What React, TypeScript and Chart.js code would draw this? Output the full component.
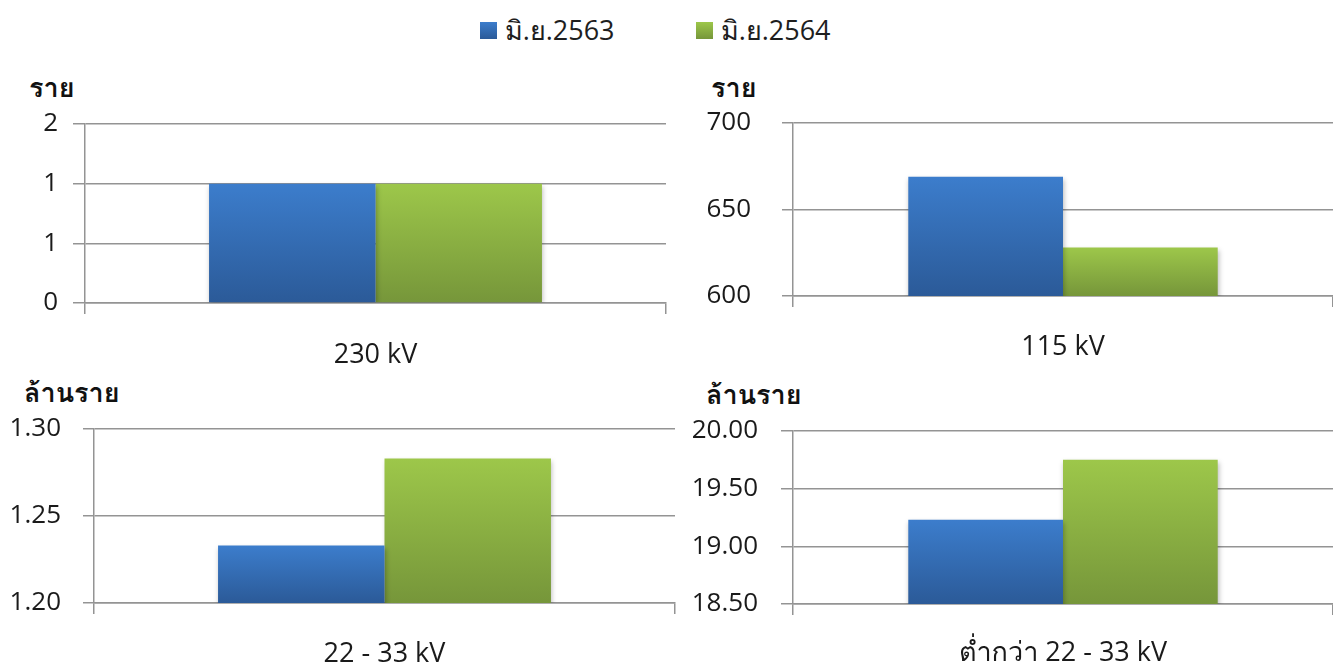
import React, { useEffect, useRef } from "react";
import { Chart, registerables } from "chart.js";

Chart.register(...registerables);

// ---- data ----
const seriesLabels = ["มิ.ย.2563", "มิ.ย.2564"];

const cat230 = ["230 kV"];
const val230y63 = [1];
const val230y64 = [1];

const cat115 = ["115 kV"];
const val115y63 = [669];
const val115y64 = [628];

const cat22 = ["22 - 33 kV"];
const val22y63 = [1.233];
const val22y64 = [1.283];

const catLow = ["ต่ำกว่า 22 - 33 kV"];
const valLowy63 = [19.23];
const valLowy64 = [19.75];

const unitCount = "ราย";
const unitMillion = "ล้านราย";

// y-axis ranges [min, max, step]
const range230 = [0, 1.5, 0.5];
const range115 = [600, 700, 50];
const range22 = [1.2, 1.3, 0.05];
const rangeLow = [18.5, 20, 0.5];

const decimals230 = 0;
const decimals115 = 0;
const decimals22 = 2;
const decimalsLow = 2;

// ---- styling ----
const FONT = "'Open Sans', 'Loma', 'Noto Sans Thai Looped', sans-serif";
const GRID = "#949494";
const TEXT = "#1a1a1a";
const BLUE_TOP = "#3c7dcc";
const BLUE_BOT = "#2b5a98";
const GREEN_TOP = "#9dc74a";
const GREEN_BOT = "#76963a";
const seriesColors = [
  [BLUE_TOP, BLUE_BOT],
  [GREEN_TOP, GREEN_BOT],
];

const shadowPlugin = {
  id: "barShadow",
  beforeDatasetsDraw(chart: any) {
    const ctx = chart.ctx;
    ctx.save();
    ctx.shadowColor = "rgba(0,0,0,0.28)";
    ctx.shadowBlur = 5;
    ctx.shadowOffsetX = 1;
    ctx.shadowOffsetY = 2;
  },
  afterDatasetsDraw(chart: any) {
    chart.ctx.restore();
  },
};

type PanelProps = {
  left: number;
  top: number;
  width: number;
  height: number;
  area: { left: number; right: number; top: number; bottom: number };
  labels: string[];
  a: number[];
  b: number[];
  range: number[];
  decimals: number;
  yPad: number;
  yTick: number;
  xPad: number;
};

function Panel(p: PanelProps) {
  const ref = useRef<HTMLCanvasElement | null>(null);
  useEffect(() => {
    if (!ref.current) return;
    const grad = (si: number) => (ctx: any) => {
      const chart = ctx.chart;
      const ys = chart.scales && chart.scales.y;
      if (!ys || !chart.chartArea || ctx.raw == null) return seriesColors[si][0];
      const yTop = ys.getPixelForValue(ctx.raw);
      const yBot = ys.bottom;
      if (!isFinite(yTop) || yBot - yTop < 1) return seriesColors[si][0];
      const g = chart.ctx.createLinearGradient(0, yTop, 0, yBot);
      g.addColorStop(0, seriesColors[si][0]);
      g.addColorStop(1, seriesColors[si][1]);
      return g;
    };
    const chart = new Chart(ref.current, {
      type: "bar",
      data: {
        labels: p.labels,
        datasets: [
          { label: seriesLabels[0], data: p.a, backgroundColor: grad(0), borderWidth: 0 },
          { label: seriesLabels[1], data: p.b, backgroundColor: grad(1), borderWidth: 0 },
        ],
      },
      plugins: [shadowPlugin],
      options: {
        animation: false,
        responsive: false,
        maintainAspectRatio: false,
        devicePixelRatio: 1,
        layout: {
          padding: {
            left: 0,
            top: p.area.top,
            right: p.width - p.area.right,
            bottom: 0,
          },
        },
        plugins: {
          legend: { display: false },
          tooltip: { enabled: false },
          title: { display: false },
        },
        datasets: {
          bar: { categoryPercentage: 0.573, barPercentage: 1.0 },
        },
        scales: {
          x: {
            type: "category",
            grid: {
              display: true,
              drawOnChartArea: false,
              drawTicks: true,
              tickLength: 11,
              offset: true,
              color: GRID,
              lineWidth: 1.5,
            },
            border: { display: true, color: GRID, width: 1.5 },
            ticks: {
              color: TEXT,
              font: { family: FONT, size: 27 },
              padding: p.xPad,
              maxRotation: 0,
            },
            afterFit: (s: any) => {
              s.height = p.height - p.area.bottom;
            },
          },
          y: {
            min: p.range[0],
            max: p.range[1],
            grid: {
              color: GRID,
              lineWidth: 1.5,
              drawTicks: true,
              tickLength: p.yTick,
            },
            border: { display: true, color: GRID, width: 1.5 },
            ticks: {
              stepSize: p.range[2],
              color: TEXT,
              font: { family: FONT, size: 26 },
              padding: p.yPad,
              callback: (v: any) => Number(v).toFixed(p.decimals),
            },
            afterFit: (s: any) => {
              s.width = p.area.left;
            },
          },
        },
      },
    });
    return () => chart.destroy();
  }, []);
  return (
    <canvas
      ref={ref}
      width={p.width}
      height={p.height}
      style={{ position: "absolute", left: p.left, top: p.top, width: p.width, height: p.height }}
    />
  );
}

function Unit({ text, left, top }: { text: string; left: number; top: number }) {
  return (
    <div
      style={{
        position: "absolute",
        left,
        top,
        fontFamily: FONT,
        fontWeight: 700,
        fontSize: 27,
        lineHeight: "32px",
        color: "#111",
        whiteSpace: "nowrap",
      }}
    >
      {text}
    </div>
  );
}

function LegendItem({ i, left }: { i: number; left: number }) {
  return (
    <div style={{ position: "absolute", left, top: 13, display: "flex", alignItems: "center", height: 34 }}>
      <div
        style={{
          width: 17,
          height: 17,
          background: `linear-gradient(${seriesColors[i][0]}, ${seriesColors[i][1]})`,
          marginRight: 8,
        }}
      />
      <span style={{ fontFamily: FONT, fontSize: 27, color: "#1e1e1e", whiteSpace: "nowrap" }}>{seriesLabels[i]}</span>
    </div>
  );
}

export default function App() {
  return (
    <div style={{ position: "fixed", left: 0, top: 0, width: 1333, height: 665, background: "#fff", overflow: "hidden" }}>
      <LegendItem i={0} left={480} />
      <LegendItem i={1} left={696} />

      <Unit text={unitCount} left={29} top={71} />
      <Unit text={unitCount} left={711} top={71} />
      <Unit text={unitMillion} left={24} top={376} />
      <Unit text={unitMillion} left={706} top={378} />

      <Panel
        left={0}
        top={60}
        width={690}
        height={320}
        area={{ left: 85, right: 666, top: 64, bottom: 243 }}
        labels={cat230}
        a={val230y63}
        b={val230y64}
        range={range230}
        decimals={decimals230}
        yPad={15}
        yTick={12}
        xPad={25}
      />
      <Panel
        left={690}
        top={60}
        width={643}
        height={310}
        area={{ left: 103, right: 643, top: 63, bottom: 236 }}
        labels={cat115}
        a={val115y63}
        b={val115y64}
        range={range115}
        decimals={decimals115}
        yPad={31}
        yTick={11}
        xPad={24}
      />
      <Panel
        left={0}
        top={370}
        width={690}
        height={295}
        area={{ left: 94, right: 675, top: 59, bottom: 233 }}
        labels={cat22}
        a={val22y63}
        b={val22y64}
        range={range22}
        decimals={decimals22}
        yPad={22}
        yTick={11}
        xPad={24}
      />
      <Panel
        left={690}
        top={370}
        width={643}
        height={295}
        area={{ left: 103, right: 643, top: 61, bottom: 234 }}
        labels={catLow}
        a={valLowy63}
        b={valLowy64}
        range={rangeLow}
        decimals={decimalsLow}
        yPad={23}
        yTick={12}
        xPad={22}
      />
    </div>
  );
}
